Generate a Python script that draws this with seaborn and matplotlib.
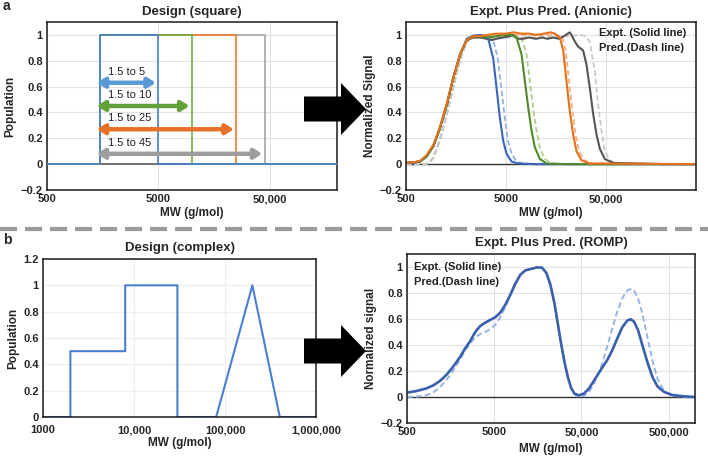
import matplotlib
matplotlib.use('Agg')
import matplotlib.pyplot as plt
from matplotlib.patches import Polygon, FancyArrowPatch
from matplotlib.lines import Line2D
import seaborn as sns

# ---------------- data ----------------
# panel a left: square designs (MW range 1.5k to X k)
design_lo = 1500
design_hi = [5000, 10000, 25000, 45000]
design_labels = ['1.5 to 5', '1.5 to 10', '1.5 to 25', '1.5 to 45']

# panel a right: anionic expt (solid) and pred (dashed)
blue_expt_mw = [500, 600, 690, 805, 940, 1095, 1280, 1490, 1740, 2030, 2370, 2770, 3100, 3330,
                3730, 4030, 4350, 4700, 5080, 5700, 6640, 10000, 50000, 400000]
blue_expt_sig = [0.01, 0.01, 0.02, 0.06, 0.14, 0.28, 0.46, 0.67, 0.85, 0.97, 0.995, 1.0, 0.99, 0.97,
                 0.82, 0.59, 0.36, 0.18, 0.08, 0.02, 0.005, 0.0, 0.0, 0.0]
blue_pred_mw = [500, 780, 850, 940, 1095, 1280, 1490, 1740, 2030, 2370, 2770, 3300, 3700, 4150,
                4500, 4870, 5250, 5700, 6400, 7400, 10000, 400000]
blue_pred_sig = [0.0, 0.0, 0.01, 0.05, 0.19, 0.39, 0.60, 0.81, 0.95, 0.99, 1.0, 0.99, 0.97, 0.82,
                 0.59, 0.36, 0.18, 0.08, 0.02, 0.005, 0.0, 0.0]

green_expt_mw = [500, 690, 805, 940, 1095, 1280, 1490, 1740, 2030, 2370, 2770, 3300, 4000, 5000,
                 5600, 6390, 7170, 7750, 8360, 9030, 9750, 10940, 12760, 20000, 400000]
green_expt_sig = [0.01, 0.02, 0.06, 0.14, 0.28, 0.46, 0.67, 0.85, 0.96, 0.99, 0.99, 0.98, 0.99, 1.0,
                  1.0, 0.98, 0.85, 0.64, 0.44, 0.26, 0.13, 0.04, 0.005, 0.0, 0.0]
green_pred_mw = [500, 780, 850, 940, 1095, 1280, 1490, 1740, 2030, 2370, 2770, 4000, 6000,
                 7150, 8030, 8680, 9360, 10110, 10920, 12250, 14300, 20000, 400000]
green_pred_sig = [0.0, 0.0, 0.01, 0.05, 0.19, 0.39, 0.60, 0.81, 0.95, 0.99, 1.0, 1.0, 1.0,
                  0.98, 0.85, 0.64, 0.44, 0.26, 0.13, 0.04, 0.005, 0.0, 0.0]

orange_expt_mw = [500, 600, 690, 805, 940, 1095, 1280, 1490, 1740, 2030, 2370, 2770, 3300, 4000,
                  5000, 6000, 7000, 8500, 10000, 12000, 14000, 15450, 17340, 18720, 20220, 21820,
                  23560, 25450, 28550, 34600, 50000, 400000]
orange_expt_sig = [0.01, 0.015, 0.025, 0.07, 0.15, 0.29, 0.47, 0.67, 0.85, 0.96, 0.99, 0.99, 1.0, 1.01,
                   1.01, 1.02, 1.01, 1.01, 1.0, 1.01, 1.02, 1.01, 0.98, 0.88, 0.64, 0.41,
                   0.23, 0.10, 0.03, 0.005, 0.005, 0.0]
orange_pred_mw = [500, 780, 850, 940, 1095, 1280, 1490, 1740, 2030, 2370, 2770, 5000, 10000, 16400,
                  18380, 19840, 21430, 23130, 24970, 26980, 30260, 36700, 400000]
orange_pred_sig = [0.0, 0.0, 0.01, 0.05, 0.19, 0.39, 0.60, 0.81, 0.95, 0.99, 1.0, 1.0, 1.0, 1.0,
                   0.98, 0.88, 0.64, 0.41, 0.23, 0.10, 0.03, 0.005, 0.0]

gray_expt_mw = [500, 690, 805, 940, 1095, 1280, 1490, 1740, 2030, 2370, 2770, 3200, 3600, 4000,
                4700, 5400, 5900, 6600, 7400, 8500, 10000, 11500, 13000, 15000, 17000, 19000,
                21800, 23000, 24480, 26400, 29650, 32050, 34600, 37350, 40350, 43550, 48850,
                59150, 100000, 200000, 400000]
gray_expt_sig = [0.01, 0.02, 0.06, 0.14, 0.28, 0.46, 0.67, 0.85, 0.96, 0.98, 0.98, 0.97, 0.96, 0.97,
                 0.98, 0.99, 1.0, 0.97, 0.97, 0.98, 0.97, 0.98, 0.97, 0.98, 0.97, 0.99,
                 1.02, 0.99, 0.95, 0.91, 0.88, 0.77, 0.59, 0.39, 0.23, 0.12, 0.04,
                 0.01, 0.005, 0.0, 0.0]
gray_pred_mw = [500, 780, 850, 940, 1095, 1280, 1490, 1740, 2030, 2370, 2770, 5000, 10000, 20000,
                28000, 31000, 34600, 38800, 41900, 45250, 48850, 54800, 63900, 400000]
gray_pred_sig = [0.0, 0.0, 0.01, 0.05, 0.19, 0.39, 0.60, 0.81, 0.95, 0.98, 0.98, 0.98, 0.98, 0.99,
                 1.0, 0.99, 0.95, 0.72, 0.46, 0.26, 0.10, 0.03, 0.005, 0.0]

# panel b left: complex design
complex_mw = [1000, 2000, 2000, 8000, 8000, 30000, 30000, 80000, 200000, 400000, 1000000]
complex_pop = [0, 0, 0.5, 0.5, 1, 1, 0, 0, 1, 0, 0]

# panel b right: ROMP expt (solid) and pred (dashed)
romp_mw = [500, 645, 842, 1004, 1197, 1428, 1705, 2032, 2320, 2650, 3025, 3450, 3940, 4500,
           5130, 5860, 6690, 7640, 8710, 9950, 11350, 13550, 15460, 17650, 19800, 22030,
           24500, 26730, 29200, 31900, 34830, 38030, 41580, 46600, 53200, 60700, 69300,
           82600, 98600, 112700, 128500, 146600, 167500, 182900, 199900, 222300, 249000,
           284300, 324600, 370600, 441700, 550500, 750000, 1000000]
romp_expt_sig = [0.034, 0.046, 0.067, 0.09, 0.124, 0.173, 0.237, 0.309, 0.374, 0.43, 0.50, 0.546,
                 0.572, 0.593, 0.613, 0.649, 0.709, 0.786, 0.871, 0.94, 0.974, 0.987, 0.997,
                 0.995, 0.954, 0.863, 0.72, 0.567, 0.41, 0.27, 0.155, 0.07, 0.026, 0.013,
                 0.026, 0.064, 0.124, 0.206, 0.284, 0.36, 0.45, 0.536, 0.588, 0.598, 0.58,
                 0.515, 0.40, 0.27, 0.155, 0.082, 0.039, 0.015, 0.005, 0.0]
romp_pred_sig = [0.0, 0.003, 0.015, 0.036, 0.077, 0.134, 0.206, 0.289, 0.356, 0.412, 0.459, 0.485,
                 0.50, 0.521, 0.554, 0.613, 0.691, 0.786, 0.876, 0.94, 0.974, 0.987, 0.997,
                 0.995, 0.954, 0.863, 0.72, 0.567, 0.41, 0.27, 0.155, 0.064, 0.02, 0.003,
                 0.008, 0.039, 0.098, 0.219, 0.387, 0.528, 0.657, 0.76, 0.82, 0.83, 0.82,
                 0.76, 0.644, 0.464, 0.284, 0.142, 0.046, 0.01, 0.0, 0.0]

# ---------------- style ----------------
sns.set_theme(style='white')
plt.rcParams['font.family'] = ['Liberation Sans', 'DejaVu Sans']
plt.rcParams['font.weight'] = 'bold'

W, H = 708, 457
fig = plt.figure(figsize=(W / 100, H / 100), dpi=100)


def px_axes(x0, y0, x1, y1):
    return fig.add_axes([x0 / W, 1 - y1 / H, (x1 - x0) / W, (y1 - y0) / H])


def style_axes(ax, xlim, xticks, xlabels, ylim, yticks, ylabels, ylab, title, title_pad, xlab_pad,
               xtick_pad=3):
    ax.set_xscale('log')
    ax.set_xlim(*xlim)
    ax.set_ylim(*ylim)
    ax.set_xticks(xticks)
    ax.set_xticklabels(xlabels)
    ax.minorticks_off()
    ax.set_yticks(yticks)
    ax.set_yticklabels(ylabels)
    ax.tick_params(length=0, labelsize=8, pad=3)
    ax.tick_params(axis='x', pad=xtick_pad)
    for lab in ax.get_xticklabels() + ax.get_yticklabels():
        lab.set_fontweight('bold')
    ax.grid(True, color='#e2e2e2', lw=0.8)
    ax.set_axisbelow(True)
    for s in ax.spines.values():
        s.set_color('#1a1a1a')
        s.set_linewidth(1.1)
    ax.set_xlabel('MW (g/mol)', fontsize=8.5, fontweight='bold', labelpad=xlab_pad)
    ax.set_ylabel(ylab, fontsize=8.5, fontweight='bold', labelpad=3)
    ax.set_title(title, fontsize=9.5, fontweight='bold', pad=title_pad)


y_ticks_a = [-0.2, 0, 0.2, 0.4, 0.6, 0.8, 1]
y_labels_a = ['\u22120.2', '0', '0.2', '0.4', '0.6', '0.8', '1']

# ---------- a: design (square) ----------
ax1 = px_axes(47, 22, 337, 190)
style_axes(ax1, (500, 200000), [500, 5000, 50000], ['500', '5000', '50,000'],
           (-0.2, 1.1), y_ticks_a, y_labels_a, 'Population', 'Design (square)', 5, 2)
ax1.axhline(0, color='#595959', lw=1.2, zorder=1)
line_cols = ['#4a7fd0', '#70ad47', '#ed7d31', '#a5a5a5']
arrow_cols = ['#5b9bd5', '#62a03a', '#e8712a', '#9d9d9d']
for i in [3, 2, 1, 0]:
    hi = design_hi[i]
    sns.lineplot(x=[500, design_lo, design_lo, hi, hi, 200000], y=[0, 0, 1, 1, 0, 0],
                 sort=False, estimator=None, color=line_cols[i], lw=1.2, ax=ax1, zorder=2 + (3 - i))
arrow_y = [0.63, 0.45, 0.27, 0.08]
for i in range(4):
    arr = FancyArrowPatch((design_lo * 0.93, arrow_y[i]), (design_hi[i] * 0.95, arrow_y[i]),
                          arrowstyle='<|-|>,head_length=0.45,head_width=0.28', mutation_scale=10,
                          lw=3.2, color=arrow_cols[i], shrinkA=0, shrinkB=0, zorder=6)
    ax1.add_patch(arr)
    ax1.text(1780, arrow_y[i] + 0.085, design_labels[i], fontsize=8, fontweight='normal',
             ha='left', va='center', color='#222222', zorder=7)

# ---------- a: anionic ----------
ax2 = px_axes(406, 22, 696, 190)
style_axes(ax2, (500, 400000), [500, 5000, 50000], ['500', '5000', '50,000'],
           (-0.2, 1.1), y_ticks_a, y_labels_a, 'Normalized Signal', 'Expt. Plus Pred. (Anionic)', 5, 2)
ax2.axhline(0, color='#333333', lw=1.0, zorder=1)
dash = (0, (3, 1.6))
pred_sets = [(blue_pred_mw, blue_pred_sig, '#8fb4e3'), (green_pred_mw, green_pred_sig, '#a9d18e'),
             (orange_pred_mw, orange_pred_sig, '#f4b183'), (gray_pred_mw, gray_pred_sig, '#c9c9c9')]
expt_sets = [(gray_expt_mw, gray_expt_sig, '#555555'), (blue_expt_mw, blue_expt_sig, '#3a66b8'),
             (green_expt_mw, green_expt_sig, '#4f8a2c'), (orange_expt_mw, orange_expt_sig, '#e8701a')]
for mw, sig, c in pred_sets:
    sns.lineplot(x=mw, y=sig, sort=False, estimator=None, color=c, lw=1.3, linestyle=dash, ax=ax2)
for mw, sig, c in expt_sets:
    sns.lineplot(x=mw, y=sig, sort=False, estimator=None, color=c, lw=1.5, ax=ax2)
ax2.text(0.665, 0.935, 'Expt. (Solid line)', transform=ax2.transAxes, fontsize=8,
         fontweight='bold', ha='left', va='center', color='#222222')
ax2.text(0.665, 0.845, 'Pred.(Dash line)', transform=ax2.transAxes, fontsize=8,
         fontweight='bold', ha='left', va='center', color='#222222')

# ---------- b: design (complex) ----------
ax3 = px_axes(43, 259, 316, 417)
style_axes(ax3, (1000, 1000000), [1000, 10000, 100000, 1000000],
           ['1000', '10,000', '100,000', '1,000,000'], (0, 1.2),
           [0, 0.2, 0.4, 0.6, 0.8, 1, 1.2], ['0', '0.2', '0.4', '0.6', '0.8', '1', '1.2'],
           'Population', 'Design (complex)', 6, 1, xtick_pad=6)
ax3.grid(True, color='#eeeeee', lw=0.8)
sns.lineplot(x=complex_mw, y=complex_pop, sort=False, estimator=None, color='#4a7fd0', lw=1.5, ax=ax3)

# ---------- b: ROMP ----------
ax4 = px_axes(407, 254, 695, 423)
style_axes(ax4, (500, 1000000), [500, 5000, 50000, 500000],
           ['500', '5000', '50,000', '500,000'], (-0.2, 1.1), y_ticks_a, y_labels_a,
           'Normalized signal', 'Expt. Plus Pred. (ROMP)', 6, 4)
ax4.axhline(0, color='#333333', lw=1.0, zorder=1)
sns.lineplot(x=romp_mw, y=romp_pred_sig, sort=False, estimator=None, color='#98b4e6',
             lw=1.4, linestyle=dash, ax=ax4)
sns.lineplot(x=romp_mw, y=romp_expt_sig, sort=False, estimator=None, color='#3a5fab',
             lw=1.9, ax=ax4)
ax4.text(0.025, 0.925, 'Expt. (Solid line)', transform=ax4.transAxes, fontsize=8,
         fontweight='bold', ha='left', va='center', color='#222222')
ax4.text(0.025, 0.835, 'Pred.(Dash line)', transform=ax4.transAxes, fontsize=8,
         fontweight='bold', ha='left', va='center', color='#222222')


# ---------- decorations ----------
def big_arrow(yc):
    pts = [(304, yc - 12.5), (341, yc - 12.5), (341, yc - 26), (366, yc), (341, yc + 26),
           (341, yc + 12.5), (304, yc + 12.5)]
    fig.patches.append(Polygon([(x / W, 1 - y / H) for x, y in pts], closed=True,
                               transform=fig.transFigure, facecolor='black', edgecolor='none',
                               zorder=10))


big_arrow(109)
big_arrow(351)

fig.add_artist(Line2D([0, 1], [1 - 228.5 / H, 1 - 228.5 / H], transform=fig.transFigure,
                      color='#9a9a9a', lw=3, dashes=(4.1, 1.9)))
fig.text(3 / W, 1 - 6 / H, 'a', fontsize=10, fontweight='bold', ha='left', va='center')
fig.text(3 / W, 1 - 240 / H, 'b', fontsize=10, fontweight='bold', ha='left', va='center')

fig.savefig('out.png', dpi=100)
